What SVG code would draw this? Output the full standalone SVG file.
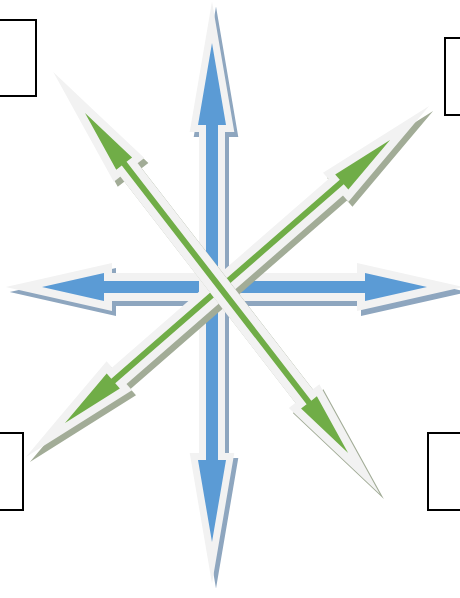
<svg xmlns="http://www.w3.org/2000/svg" width="460" height="598" viewBox="0 0 460 598">
<style>
.box{fill:#ffffff;stroke:#000000;stroke-width:2}
.blue{fill:#5b9bd5;stroke:#f2f2f2;stroke-linejoin:miter;stroke-miterlimit:12;paint-order:stroke}
.blueSh{fill:#8ea6bf;stroke:#8ea6bf;stroke-linejoin:miter;stroke-miterlimit:12}
.green{fill:#70ad47;stroke:#f2f2f2;stroke-width:16;stroke-linejoin:miter;stroke-miterlimit:12;paint-order:stroke}
.greenSh{fill:#a2ac97;stroke:#a2ac97;stroke-width:16;stroke-linejoin:miter;stroke-miterlimit:12}
</style>
<defs>
<path id="arrV" d="M0,0 L82,-14 L82,-6 L417,-6 L417,-14 L499,0 L417,14 L417,6 L82,6 L82,14 Z"/>
<path id="arrH" d="M0,0 L62,-14 L62,-6 L323,-6 L323,-14 L385,0 L323,14 L323,6 L62,6 L62,14 Z"/>
<path id="arrG1" d="M0,0 L64,-10 L64,-3 L366,-3 L366,-10 L430,0 L366,10 L366,3 L64,3 L64,10 Z"/>
<path id="arrG2" d="M0,0 L64,-10 L64,-3 L367,-3 L367,-10 L431,0 L367,10 L367,3 L64,3 L64,10 Z"/>
</defs>
<rect width="460" height="598" fill="#ffffff"/>
<g id="box-top-left"><rect class="box" x="-10" y="20" width="46" height="76"/></g>
<g id="box-top-right"><rect class="box" x="445" y="38" width="30" height="77"/></g>
<g id="box-bottom-left"><rect class="box" x="-10" y="433" width="33" height="77"/></g>
<g id="box-bottom-right"><rect class="box" x="428" y="433" width="40" height="77"/></g>
<g id="connectors">
<use href="#arrH" class="blueSh" stroke-width="16" transform="translate(46,292)"/>
<use href="#arrH" class="blue" stroke-width="16" transform="translate(42,287)"/>
<use href="#arrV" class="blueSh" stroke-width="14" transform="translate(216,48) rotate(90)"/>
<use href="#arrV" class="blue" stroke-width="14" transform="translate(212,43) rotate(90)"/>
<use href="#arrG2" class="greenSh" transform="translate(69,428) rotate(-41.05)"/>
<use href="#arrG2" class="green" transform="translate(65,423) rotate(-41.05)"/>
<use href="#arrG1" class="greenSh" transform="translate(89,118) rotate(52.27)"/>
<use href="#arrG1" class="green" transform="translate(85,113) rotate(52.27)"/>
</g>
</svg>
